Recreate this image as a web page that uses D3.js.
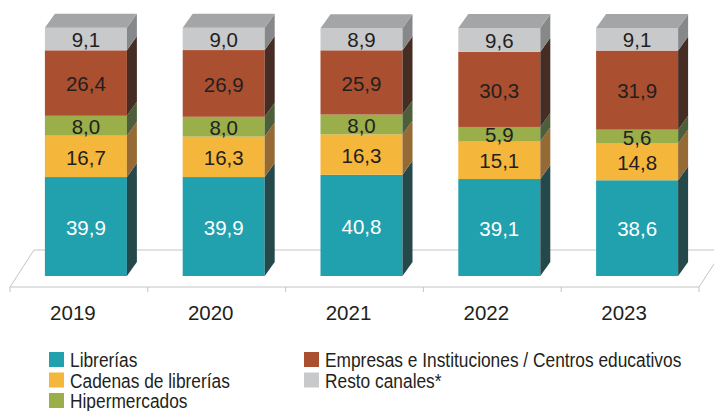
<!DOCTYPE html>
<html>
<head>
<meta charset="utf-8">
<script src="https://cdn.jsdelivr.net/npm/d3@7/dist/d3.min.js"></script>
<style>
  html, body { margin: 0; padding: 0; background: #fff; }
  svg { display: block; }
</style>
</head>
<body>
<svg id="chart" width="714" height="411"></svg>
<script>
// Sales share by channel (%), stacked from bottom to top
const years = ["2019", "2020", "2021", "2022", "2023"];
const series = ["Librerías", "Cadenas de librerías", "Hipermercados",
                "Empresas e Instituciones / Centros educativos", "Resto canales*"];
const librerias   = [39.9, 39.9, 40.8, 39.1, 38.6];
const cadenas     = [16.7, 16.3, 16.3, 15.1, 14.8];
const hiper       = [8.0, 8.0, 8.0, 5.9, 5.6];
const empresas    = [26.4, 26.9, 25.9, 30.3, 31.9];
const resto       = [9.1, 9.0, 8.9, 9.6, 9.1];
const valueLabels = [
  ["39,9", "39,9", "40,8", "39,1", "38,6"],
  ["16,7", "16,3", "16,3", "15,1", "14,8"],
  ["8,0", "8,0", "8,0", "5,9", "5,6"],
  ["26,4", "26,9", "25,9", "30,3", "31,9"],
  ["9,1", "9,0", "8,9", "9,6", "9,1"]
];

const frontColors = ["#21a0ae", "#f5b63c", "#9aae4a", "#aa4f2f", "#c8c9cb"];
const sideColors  = ["#25494a", "#956a34", "#4c5e3a", "#452d24", "#87888a"];
const topColor = "#a4a5a7";
const textColors = ["#ffffff", "#231f20", "#231f20", "#231f20", "#231f20"];

const rows = years.map((y, i) => ({
  year: y,
  s0: librerias[i], s1: cadenas[i], s2: hiper[i], s3: empresas[i], s4: resto[i]
}));
const keys = ["s0", "s1", "s2", "s3", "s4"];
const stacked = d3.stack().keys(keys)(rows);

const svg = d3.select("#chart");
const font = "'Liberation Sans', Arial, Helvetica, sans-serif";

// Layout
const floorLeft = 10, floorRight = 699, floorFront = 287;
const depthX = 10, depthY = 14;          // bar depth
const floorDX = 24, floorDY = 37;        // floor depth
const barW = 82, barShift = 7;

const x = d3.scaleBand().domain(years).range([floorLeft, floorRight]).padding(0);
const y = d3.scaleLinear().domain([0, 100]).range([276, 28]);

// Floor plane
const floor = svg.append("g");
floor.append("path")
  .attr("d", d3.line()([
    [floorLeft, floorFront],
    [floorLeft + floorDX, floorFront - floorDY],
    [floorRight + floorDX, floorFront - floorDY],
    [floorRight, floorFront],
    [floorLeft, floorFront]
  ]))
  .attr("fill", "#ffffff")
  .attr("stroke", "#c4c4c4")
  .attr("stroke-width", 1);

// Category ticks under the floor edge
const tickXs = years.map(d => x(d)).concat([floorRight]);
floor.selectAll("line.tick").data(tickXs).join("line")
  .attr("class", "tick")
  .attr("x1", d => d).attr("x2", d => d)
  .attr("y1", floorFront).attr("y2", floorFront + 5)
  .attr("stroke", "#c4c4c4").attr("stroke-width", 1);

// Bars
const barLeft = yr => x(yr) + x.bandwidth() / 2 + barShift - barW / 2;

stacked.forEach((layer, si) => {
  const g = svg.append("g");
  layer.forEach((d, i) => {
    const yr = years[i];
    const x0 = barLeft(yr), x1 = x0 + barW;
    const yb = y(d[0]), yt = y(d[1]);
    // front face
    g.append("rect")
      .attr("x", x0).attr("y", yt)
      .attr("width", barW).attr("height", yb - yt)
      .attr("fill", frontColors[si]);
    // side face
    g.append("path")
      .attr("d", d3.line()([[x1, yt], [x1 + depthX, yt - depthY], [x1 + depthX, yb - depthY], [x1, yb]]) + "Z")
      .attr("fill", sideColors[si]);
    // top face on the uppermost segment
    if (si === stacked.length - 1) {
      g.append("path")
        .attr("d", d3.line()([[x0, yt], [x0 + depthX, yt - depthY], [x1 + depthX, yt - depthY], [x1, yt]]) + "Z")
        .attr("fill", topColor);
    }
  });
});

// Value labels
stacked.forEach((layer, si) => {
  svg.append("g").selectAll("text").data(layer).join("text")
    .attr("x", (d, i) => barLeft(years[i]) + barW / 2)
    .attr("y", d => (y(d[0]) + y(d[1])) / 2 + 1)
    .attr("dy", "0.35em")
    .attr("text-anchor", "middle")
    .attr("font-family", font)
    .attr("font-size", "20.5px")
    .attr("fill", textColors[si])
    .text((d, i) => valueLabels[si][i]);
});

// Year labels
svg.append("g").selectAll("text").data(years).join("text")
  .attr("x", d => x(d) + x.bandwidth() / 2 - 6)
  .attr("y", 320)
  .attr("text-anchor", "middle")
  .attr("font-family", font)
  .attr("font-size", "20.5px")
  .attr("fill", "#231f20")
  .text(d => d);

// Legend (condensed lettering)
const legendPos = [
  [49, 352], [49, 372.5], [49, 393],
  [304, 352], [304, 372.5]
];
const legend = svg.append("g");
series.forEach((name, i) => {
  const [lx, ly] = legendPos[i];
  legend.append("rect")
    .attr("x", lx).attr("y", ly)
    .attr("width", 15).attr("height", 15)
    .attr("fill", frontColors[i]);
  legend.append("text")
    .attr("transform", `translate(${lx + 21},${ly + 15}) scale(0.825,1)`)
    .attr("font-family", font)
    .attr("font-size", "21px")
    .attr("fill", "#231f20")
    .text(name);
});
</script>
</body>
</html>
